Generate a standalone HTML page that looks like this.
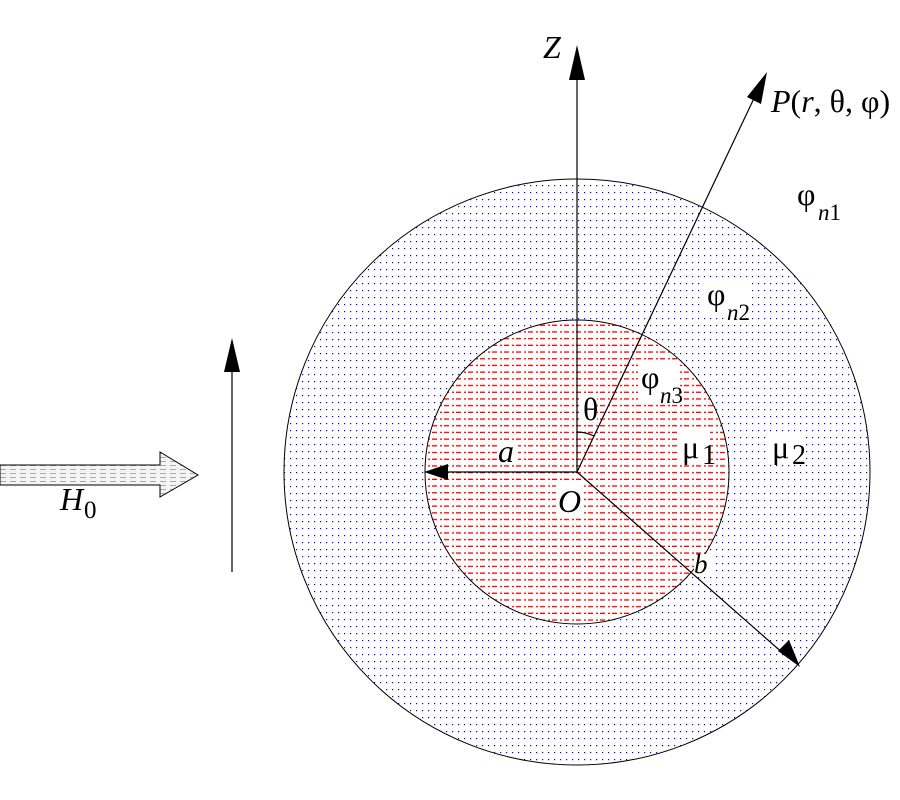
<!DOCTYPE html>
<html><head><style>body{margin:0;background:#fff}svg{display:block}text{font-family:"Liberation Serif","DejaVu Serif",serif}</style></head><body>
<svg width="900" height="800" viewBox="0 0 900 800" xmlns="http://www.w3.org/2000/svg">
<defs>
<pattern id="blue" width="6" height="7" patternUnits="userSpaceOnUse"><rect x="2" y="3" width="1.2" height="1.2" fill="#0000ff"/></pattern>
<pattern id="red" width="12" height="6.7" patternUnits="userSpaceOnUse"><rect x="0" y="3" width="5" height="1.3" fill="#ff0000"/><rect x="8" y="3" width="2" height="1.3" fill="#ff0000"/></pattern>
<pattern id="grey" width="10" height="4" patternUnits="userSpaceOnUse"><rect width="10" height="4" fill="#f4f4f4"/><rect x="0" y="1" width="6" height="1" fill="#aaa"/></pattern>
</defs>
<circle cx="577" cy="472" r="293" fill="url(#blue)" stroke="#000" stroke-width="1"/>
<circle cx="577" cy="472" r="152" fill="#fff"/>
<circle cx="577" cy="472" r="152" fill="url(#red)" stroke="#000" stroke-width="1"/>
<g fill="#fff">
<rect x="497" y="442" width="21" height="22"/><rect x="556" y="484" width="26" height="30"/>
<rect x="579" y="395" width="18" height="28"/><rect x="638" y="364" width="42" height="40"/>
<rect x="680" y="430" width="30" height="32"/><rect x="770" y="432" width="36" height="30"/>
<rect x="694" y="554" width="18" height="20"/><rect x="704" y="282" width="44" height="34"/>
</g>
<g stroke="#000" stroke-width="1.2" fill="none">
<line x1="577" y1="472" x2="577" y2="75"/>
<line x1="577" y1="472" x2="757" y2="92"/>
<line x1="577" y1="472" x2="440" y2="472"/>
<line x1="577" y1="472" x2="785" y2="655"/>
<line x1="232" y1="572" x2="232" y2="370"/>
<path d="M577 432 A40 40 0 0 1 594 436"/>
</g>
<g fill="#000">
<polygon points="577,45 569,80 585,80"/>
<polygon points="767,72 747,97 761,104"/>
<polygon points="424,472 448,464 448,480"/>
<polygon points="800,667 778,651 789,640"/>
<polygon points="232,338 224,372 240,372"/>
</g>
<path d="M0 465 H160 V452 L198 475 L160 497 V485 H0 Z" fill="url(#grey)" stroke="#000" stroke-width="1"/>
<g font-size="32" fill="#000">
<text x="543" y="58" font-style="italic">Z</text>
<text x="771" y="112"><tspan font-style="italic">P</tspan>(<tspan font-style="italic">r</tspan>, θ, φ)</text>
<text x="797" y="205">φ</text><text x="818" y="220" font-size="23"><tspan font-style="italic">n</tspan>1</text>
<text x="707" y="305">φ</text><text x="727" y="320" font-size="23"><tspan font-style="italic">n</tspan>2</text>
<text x="641" y="388">φ</text><text x="660" y="403" font-size="23"><tspan font-style="italic">n</tspan>3</text>
<text x="583" y="420">θ</text>
<text x="682" y="458">μ</text><text x="702" y="464" font-size="28">1</text>
<text x="772" y="458">μ</text><text x="792" y="464" font-size="28">2</text>
<text x="498" y="462" font-style="italic">a</text>
<text x="558" y="512" font-style="italic">O</text>
<text x="694" y="573" font-style="italic" font-size="27">b</text>
<text x="60" y="510" font-style="italic">H</text><text x="84" y="518" font-size="25">0</text>
</g>
</svg>
</body></html>
